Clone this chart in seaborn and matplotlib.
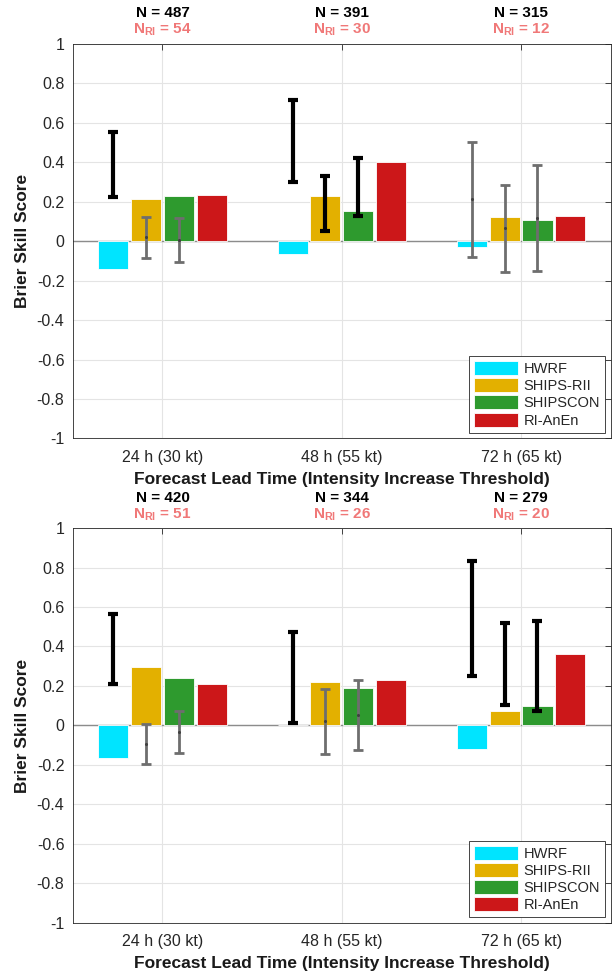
import matplotlib
matplotlib.use("Agg")
import matplotlib.pyplot as plt
import seaborn as sns
import pandas as pd

# ---- data ----
lead_labels = ['24 h (30 kt)', '48 h (55 kt)', '72 h (65 kt)']
models = ['HWRF', 'SHIPS-RII', 'SHIPSCON', 'RI-AnEn']
model_colors = ['#00E4FF', '#E3B000', '#2E9A2E', '#CC1719']

# top panel
top_n = [487, 391, 315]
top_n_ri = [54, 30, 12]
top_hwrf = [-0.142, -0.066, -0.029]
top_rii = [0.214, 0.226, 0.123]
top_con = [0.228, 0.150, 0.108]
top_anen = [0.235, 0.398, 0.125]
# RI-AnEn improvement intervals vs HWRF / SHIPS-RII / SHIPSCON
top_lo_hwrf = [0.223, 0.300, -0.079]
top_hi_hwrf = [0.550, 0.714, 0.500]
top_lo_rii = [-0.084, 0.049, -0.155]
top_hi_rii = [0.123, 0.327, 0.282]
top_lo_con = [-0.108, 0.127, -0.150]
top_hi_con = [0.118, 0.420, 0.385]

# bottom panel
bot_n = [420, 344, 279]
bot_n_ri = [51, 26, 20]
bot_hwrf = [-0.167, 0.004, -0.120]
bot_rii = [0.294, 0.219, 0.071]
bot_con = [0.241, 0.190, 0.100]
bot_anen = [0.208, 0.228, 0.363]
bot_lo_hwrf = [0.208, 0.012, 0.251]
bot_hi_hwrf = [0.567, 0.471, 0.833]
bot_lo_rii = [-0.193, -0.144, 0.104]
bot_hi_rii = [0.008, 0.187, 0.518]
bot_lo_con = [-0.140, -0.125, 0.074]
bot_hi_con = [0.072, 0.228, 0.527]

y_ticks = [-1, -0.8, -0.6, -0.4, -0.2, 0, 0.2, 0.4, 0.6, 0.8, 1]

sns.set_style("white")
plt.rcParams['font.family'] = ['Liberation Sans', 'DejaVu Sans']
plt.rcParams['mathtext.fontset'] = 'custom'
plt.rcParams['mathtext.rm'] = 'Liberation Sans'
plt.rcParams['mathtext.bf'] = 'Liberation Sans:bold'


def draw_panel(ax, bss, lows, highs, n_all, n_ri):
    df = pd.DataFrame({
        'lead': lead_labels * len(models),
        'model': [m for m in models for _ in lead_labels],
        'bss': [v for series in bss for v in series],
    })
    sns.barplot(data=df, x='lead', y='bss', hue='model', hue_order=models,
                order=lead_labels, palette=model_colors, width=0.73, gap=0.08,
                errorbar=None, edgecolor='white', linewidth=0.6, saturation=1,
                ax=ax, zorder=2)

    ax.axhline(0, color='#8C8C8C', lw=1.0, zorder=1.5)

    # error bars sit on the HWRF, SHIPS-RII and SHIPSCON bars
    for cont, lo, hi in zip(ax.containers[:3], lows, highs):
        for patch, l, h in zip(cont.patches, lo, hi):
            xc = patch.get_x() + patch.get_width() / 2
            sig = l > 0
            col = 'black' if sig else '#6E6E6E'
            lw = 3.0 if sig else 2.0
            mid = (l + h) / 2
            ax.errorbar([xc], [mid], yerr=[[mid - l], [h - mid]], fmt='none',
                        ecolor=col, elinewidth=lw, capsize=3.5,
                        capthick=lw, zorder=4)
            if not sig:
                ax.plot([xc], [mid], marker='o', ms=1.2, color='#404040', zorder=5)

    ax.set_ylim(-1, 1)
    ax.set_xlim(-0.5, 2.5)
    ax.set_yticks(y_ticks)
    ax.set_yticklabels([f"{v:g}" for v in y_ticks])
    ax.set_xticks(range(len(lead_labels)))
    ax.set_xticklabels(lead_labels)
    ax.tick_params(direction='in', top=True, right=True, length=4, width=0.6,
                   color='#262626', labelsize=11.5, labelcolor='#262626')
    ax.tick_params(axis='x', pad=8)
    ax.tick_params(axis='y', pad=6)
    ax.grid(True, color='#E4E4E4', lw=0.8)
    ax.set_axisbelow(True)
    for sp in ax.spines.values():
        sp.set_color('#262626')
        sp.set_linewidth(0.6)

    ax.set_xlabel('Forecast Lead Time (Intensity Increase Threshold)',
                  fontsize=12.5, fontweight='bold', color='#1A1A1A', labelpad=5)
    ax.set_ylabel('Brier Skill Score', fontsize=12.5, fontweight='bold',
                  color='#1A1A1A', labelpad=5)

    tr = ax.get_xaxis_transform()
    for i, (n, nr) in enumerate(zip(n_all, n_ri)):
        ax.text(i, 1.067, f'N = {n}', transform=tr, ha='center', va='baseline',
                fontsize=11, fontweight='bold', color='black')
        ax.text(i, 1.024, r'$\mathbf{N_{RI}}$' + f' = {nr}', transform=tr,
                ha='center', va='baseline', fontsize=11, fontweight='bold',
                color='#F07878')

    handles, labels = ax.get_legend_handles_labels()
    leg = ax.legend(handles, labels, loc='lower right', fontsize=10.5,
                    frameon=True, fancybox=False, framealpha=1,
                    edgecolor='#262626', handlelength=3.0, handleheight=1.1,
                    handletextpad=0.4, labelspacing=0.15, borderpad=0.35,
                    borderaxespad=0.4)
    leg.get_frame().set_linewidth(0.6)


fig = plt.figure(figsize=(6.12, 9.74), dpi=100)
ax_top = fig.add_axes([0.119, 0.5498, 0.879, 0.4055])
ax_bot = fig.add_axes([0.119, 0.0524, 0.879, 0.4055])

draw_panel(ax_top, [top_hwrf, top_rii, top_con, top_anen],
           [top_lo_hwrf, top_lo_rii, top_lo_con],
           [top_hi_hwrf, top_hi_rii, top_hi_con], top_n, top_n_ri)
draw_panel(ax_bot, [bot_hwrf, bot_rii, bot_con, bot_anen],
           [bot_lo_hwrf, bot_lo_rii, bot_lo_con],
           [bot_hi_hwrf, bot_hi_rii, bot_hi_con], bot_n, bot_n_ri)

fig.savefig('out.png', dpi=100)
